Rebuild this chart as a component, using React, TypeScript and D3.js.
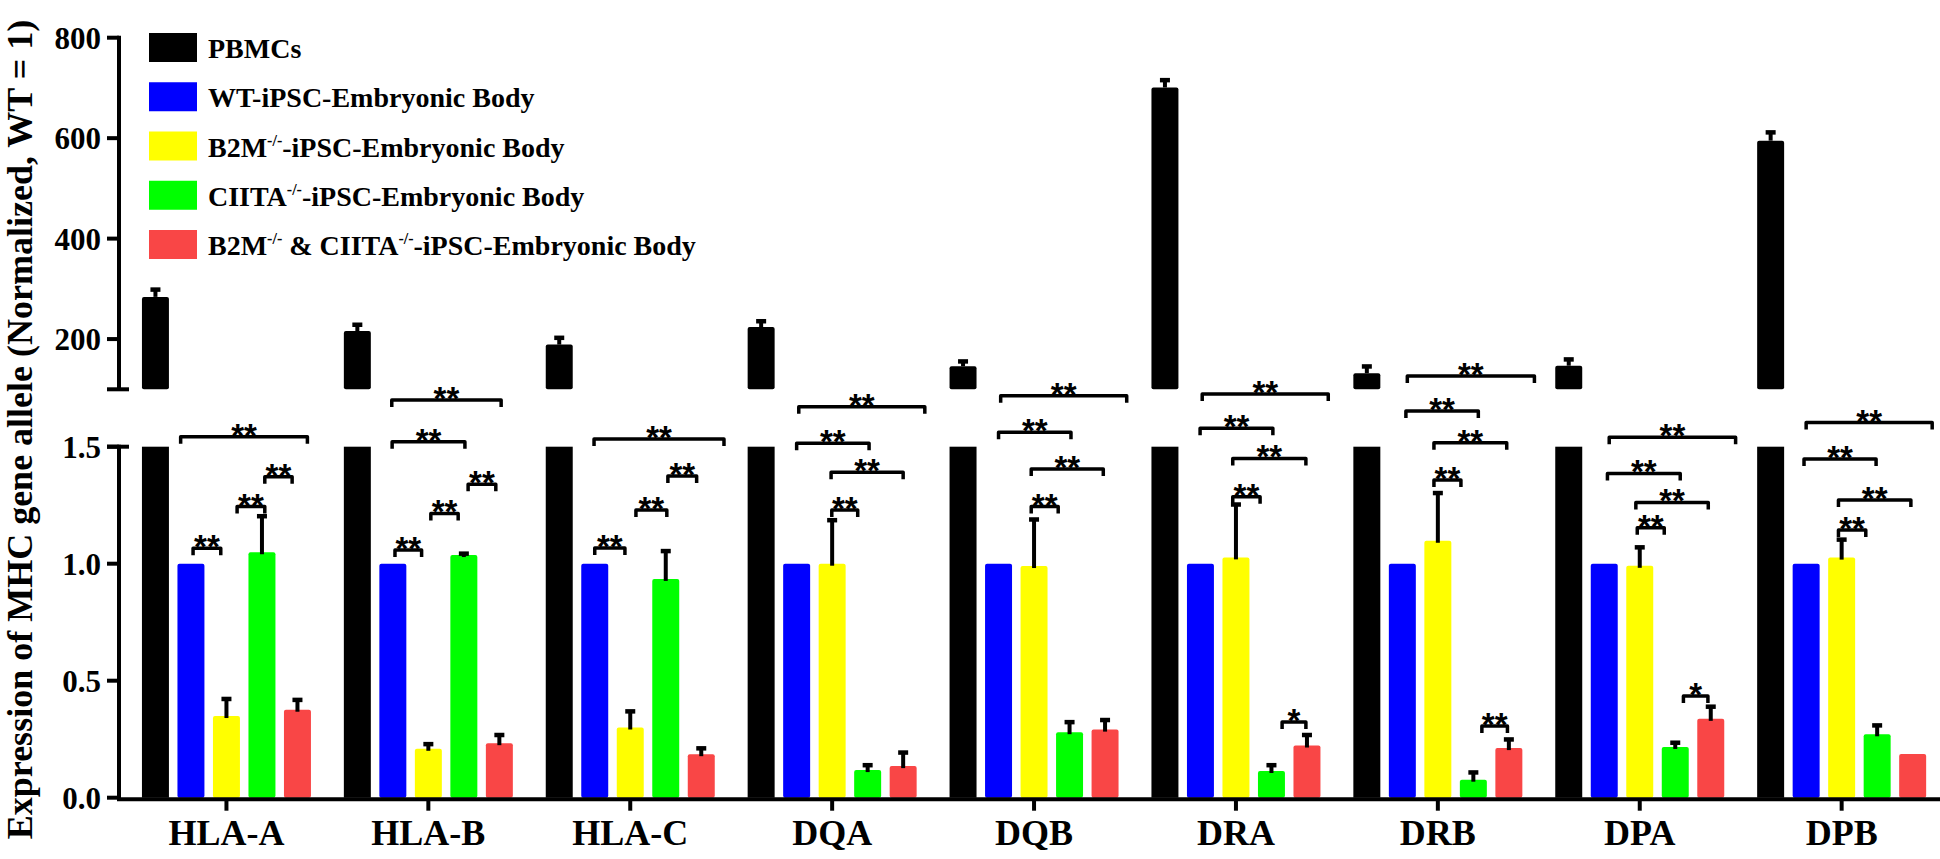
import React from 'react';
import * as d3 from 'd3';

const categories = ['HLA-A', 'HLA-B', 'HLA-C', 'DQA', 'DQB', 'DRA', 'DRB', 'DPA', 'DPB'];
const seriesColors = ['#000000', '#0000ff', '#ffff00', '#00ff00', '#f94646'];

// PBMCs (upper, broken axis section)
const pbmcValues = [284, 216, 189, 224, 146, 701, 132, 147, 595];
const pbmcErrors = [15, 13, 14, 12, 10, 15, 14, 13, 17];
// Lower section series
const wtValues = [1, 1, 1, 1, 1, 1, 1, 1, 1];
const wtErrors = [0, 0, 0, 0, 0, 0, 0, 0, 0];
const b2mValues = [0.349, 0.209, 0.3, 1.0, 0.99, 1.027, 1.098, 0.991, 1.026];
const b2mErrors = [0.074, 0.021, 0.07, 0.187, 0.2, 0.227, 0.205, 0.08, 0.078];
const ciitaValues = [1.049, 1.037, 0.935, 0.118, 0.28, 0.114, 0.077, 0.217, 0.271];
const ciitaErrors = [0.155, 0.007, 0.12, 0.022, 0.044, 0.026, 0.032, 0.019, 0.039];
const dkoValues = [0.376, 0.233, 0.186, 0.135, 0.291, 0.223, 0.212, 0.337, 0.187];
const dkoErrors = [0.043, 0.036, 0.026, 0.059, 0.042, 0.046, 0.038, 0.053, 0];

const upperTicks = [200, 400, 600, 800];
const lowerTicks = [0, 0.5, 1.0, 1.5];
const lowerTickLabels = ['0.0', '0.5', '1.0', '1.5'];

const yTitle = 'Expression of MHC gene allele (Normalized, WT = 1)';

const legendItems = [
  [{ t: 'PBMCs' }],
  [{ t: 'WT-iPSC-Embryonic Body' }],
  [{ t: 'B2M' }, { t: '-/-', sup: true }, { t: '-iPSC-Embryonic Body' }],
  [{ t: 'CIITA' }, { t: '-/-', sup: true }, { t: '-iPSC-Embryonic Body' }],
  [{ t: 'B2M' }, { t: '-/-', sup: true }, { t: ' & CIITA' }, { t: '-/-', sup: true }, { t: '-iPSC-Embryonic Body' }],
];

// significance brackets: group index, from/to in bar-slot units relative to group centre, level (lower axis units), label
const bracketGroup = [0, 0, 0, 0, 1, 1, 1, 1, 1, 2, 2, 2, 2, 3, 3, 3, 3, 4, 4, 4, 4, 5, 5, 5, 5, 5, 6, 6, 6, 6, 6, 7, 7, 7, 7, 7, 8, 8, 8, 8];
const bracketFrom = [-0.94, 0.3, 1.08, -1.29, -0.94, 0.07, 1.12, -1.02, -1.03, -1.0, 0.16, 1.06, -1.02, -0.01, -0.03, -1.0, -0.94, -0.08, -0.08, -1.0, -0.94, -0.09, -0.09, -1.01, -0.95, 1.3, -0.11, -0.11, -0.9, -0.86, 1.24, -0.07, -0.11, -0.91, -0.86, 1.23, -0.09, -0.09, -1.06, -1.0];
const bracketTo = [-0.16, 1.08, 1.85, 2.28, -0.19, 0.84, 1.9, 1.03, 2.05, -0.15, 1.03, 1.87, 2.64, 0.72, 2.0, 1.04, 2.61, 0.68, 1.95, 1.04, 2.61, 0.68, 1.97, 1.04, 2.6, 1.97, 0.65, 1.94, 1.14, 2.72, 1.96, 0.69, 1.93, 1.14, 2.7, 1.92, 0.68, 1.95, 0.97, 2.55];
const bracketLevel = [1.066, 1.244, 1.372, 1.543, 1.059, 1.215, 1.339, 1.521, 1.7, 1.067, 1.23, 1.375, 1.533, 1.229, 1.391, 1.515, 1.671, 1.244, 1.405, 1.562, 1.718, 1.286, 1.45, 1.579, 1.725, 0.324, 1.358, 1.517, 1.653, 1.802, 0.306, 1.154, 1.262, 1.386, 1.54, 0.435, 1.144, 1.272, 1.447, 1.603];
const bracketLabel = ['**', '**', '**', '**', '**', '**', '**', '**', '**', '**', '**', '**', '**', '**', '**', '**', '**', '**', '**', '**', '**', '**', '**', '**', '**', '*', '**', '**', '**', '**', '**', '**', '**', '**', '**', '*', '**', '**', '**', '**'];

const W = 1940;
const H = 859;
const serif = '"Liberation Serif", "Times New Roman", serif';
const sans = '"Liberation Sans", Arial, sans-serif';

export default function App() {
  const x0 = d3.scaleBand<string>().domain(categories).range([125.5, 1942.6]).padding(0);
  const inner = d3.scaleBand<number>().domain([0, 1, 2, 3, 4]).range([-84.5, 84.5]).paddingInner(0.24);
  const yUpper = d3.scaleLinear().domain([100, 800]).range([389.3, 37.7]);
  const yLower = d3.scaleLinear().domain([0, 1.5]).range([797.7, 446.7]);
  const axisX = 119;
  const gc = (i: number) => (x0(categories[i]) as number) + x0.bandwidth() / 2;
  const slot = inner.step();
  const bw = inner.bandwidth();

  const lowerSeries = [
    { v: wtValues, e: wtErrors, s: 1 },
    { v: b2mValues, e: b2mErrors, s: 2 },
    { v: ciitaValues, e: ciitaErrors, s: 3 },
    { v: dkoValues, e: dkoErrors, s: 4 },
  ];

  const errBar = (cx: number, yTop: number, yEnd: number, key: string) => (
    <g key={key}>
      <line x1={cx} x2={cx} y1={yTop} y2={yEnd} stroke="#000" strokeWidth={4} />
      <rect x={cx - 5} y={yEnd - 2} width={10} height={4.5} fill="#000" />
    </g>
  );

  return (
    <svg width={W} height={H} style={{ position: 'absolute', left: 0, top: 0, display: 'block', background: '#fff' }}>
      <rect x={0} y={0} width={W} height={H} fill="#fff" />
      {/* Bars */}
      {categories.map((c, i) => {
        const cx0 = gc(i) + (inner(0) as number);
        return (
          <g key={c}>
            {/* PBMC lower (clipped at 1.5) */}
            <rect x={cx0} y={yLower(1.5)} width={bw} height={yLower(0) - yLower(1.5)} fill={seriesColors[0]} />
            {/* PBMC upper */}
            <rect x={cx0} y={yUpper(pbmcValues[i])} width={bw} height={yUpper(100) - yUpper(pbmcValues[i])} fill={seriesColors[0]} rx={2} />
            {errBar(cx0 + bw / 2, yUpper(pbmcValues[i]), yUpper(pbmcValues[i] + pbmcErrors[i]), 'pe')}
            {lowerSeries.map((s) => {
              const bx = gc(i) + (inner(s.s) as number);
              const v = s.v[i];
              return (
                <g key={s.s}>
                  <rect x={bx} y={yLower(v)} width={bw} height={yLower(0) - yLower(v)} fill={seriesColors[s.s]} rx={2} />
                  {s.e[i] > 0 && errBar(bx + bw / 2, yLower(v) + 2, yLower(v + s.e[i]), 'e')}
                </g>
              );
            })}
          </g>
        );
      })}

      {/* X axis */}
      <line x1={axisX - 2} x2={W} y1={yLower(0) + 1.5} y2={yLower(0) + 1.5} stroke="#000" strokeWidth={4} />
      {categories.map((c, i) => (
        <g key={c}>
          <line x1={gc(i)} x2={gc(i)} y1={yLower(0) + 2} y2={yLower(0) + 13} stroke="#000" strokeWidth={4} />
          <text x={gc(i)} y={845} textAnchor="middle" fontFamily={serif} fontWeight="bold" fontSize={36}>{c}</text>
        </g>
      ))}

      {/* Y axis lower */}
      <line x1={axisX} x2={axisX} y1={yLower(1.5) - 2} y2={yLower(0) + 3} stroke="#000" strokeWidth={4} />
      <line x1={axisX - 12} x2={axisX + 10} y1={yLower(1.5)} y2={yLower(1.5)} stroke="#000" strokeWidth={4} />
      {lowerTicks.map((t, k) => (
        <g key={t}>
          <line x1={axisX - 12} x2={axisX} y1={yLower(t)} y2={yLower(t)} stroke="#000" strokeWidth={4} />
          <text x={101} y={yLower(t) + 11} textAnchor="end" fontFamily={serif} fontWeight="bold" fontSize={31}>{lowerTickLabels[k]}</text>
        </g>
      ))}
      {/* Y axis upper */}
      <line x1={axisX} x2={axisX} y1={yUpper(800) - 2} y2={yUpper(100)} stroke="#000" strokeWidth={4} />
      <line x1={axisX - 12} x2={axisX + 10} y1={yUpper(100)} y2={yUpper(100)} stroke="#000" strokeWidth={4} />
      {upperTicks.map((t) => (
        <g key={t}>
          <line x1={axisX - 12} x2={axisX} y1={yUpper(t)} y2={yUpper(t)} stroke="#000" strokeWidth={4} />
          <text x={101} y={yUpper(t) + 11} textAnchor="end" fontFamily={serif} fontWeight="bold" fontSize={31}>{t}</text>
        </g>
      ))}

      {/* Y title */}
      <text x={32} y={429.5} transform="rotate(-90, 32, 429.5)" textAnchor="middle" fontFamily={serif} fontWeight="bold" fontSize={36}>{yTitle}</text>

      {/* Brackets */}
      {bracketGroup.map((g, k) => {
        const xa = gc(g) + bracketFrom[k] * slot;
        const xb = gc(g) + bracketTo[k] * slot;
        const y = yLower(bracketLevel[k]);
        return (
          <g key={k}>
            <path d={`M${xa},${y + 7} L${xa},${y} L${xb},${y} L${xb},${y + 7}`} fill="none" stroke="#000" strokeWidth={3.5} strokeLinejoin="round" />
            <text x={(xa + xb) / 2} y={y + 10} textAnchor="middle" fontFamily={sans} fontWeight="bold" fontSize={33}>{bracketLabel[k]}</text>
          </g>
        );
      })}

      {/* Legend */}
      {legendItems.map((item, k) => {
        const top = 33 + k * 49.25;
        return (
          <g key={k}>
            <rect x={149} y={top} width={48} height={29} fill={seriesColors[k]} />
            <text x={208} y={top + 25} fontFamily={serif} fontWeight="bold" fontSize={28}>
              {item.map((seg, j) =>
                seg.sup ? (
                  <tspan key={j} fontSize={16} dy={-11}>{seg.t}</tspan>
                ) : (
                  <tspan key={j} dy={j > 0 && item[j - 1].sup ? 11 : 0}>{seg.t}</tspan>
                )
              )}
            </text>
          </g>
        );
      })}
    </svg>
  );
}
